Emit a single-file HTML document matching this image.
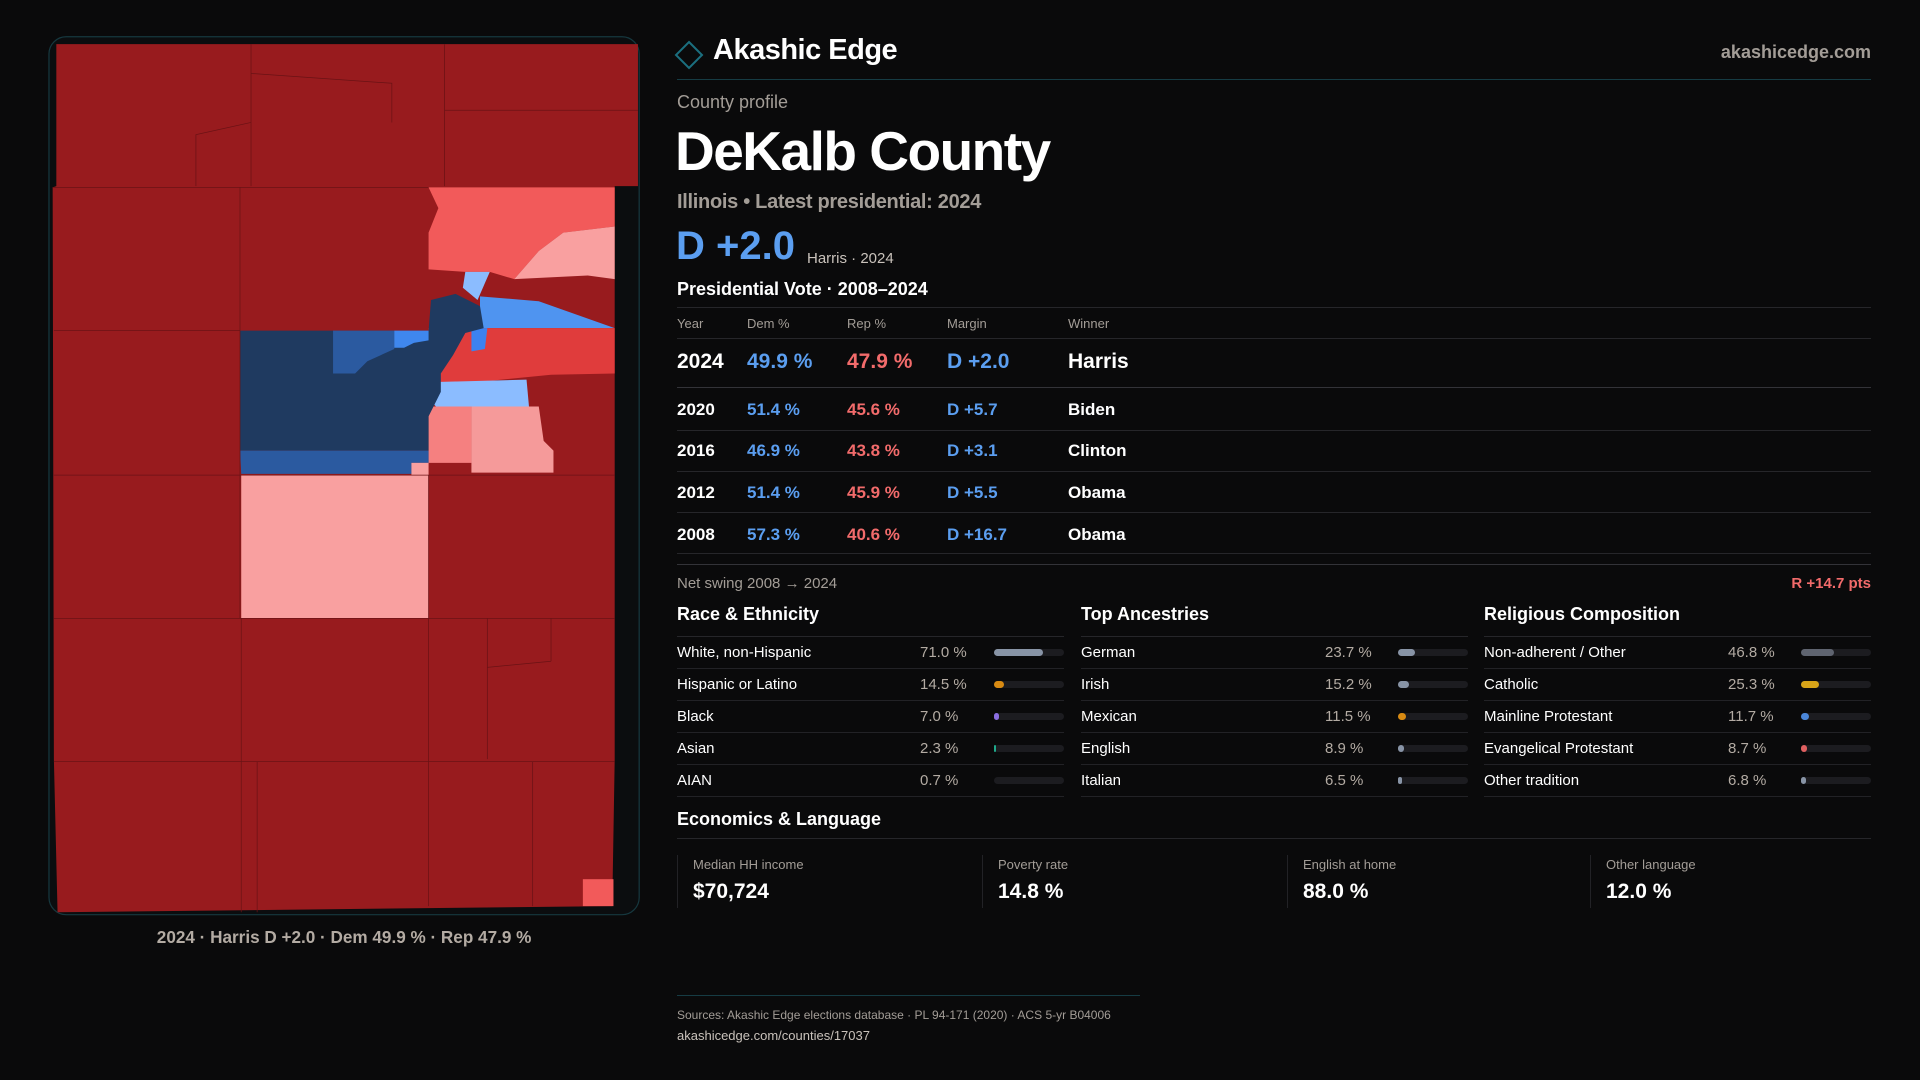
<!DOCTYPE html>
<html><head><meta charset="utf-8"><style>
*{margin:0;padding:0;box-sizing:border-box}
body{width:1920px;height:1080px;background:#0a0a0b;font-family:"Liberation Sans",sans-serif;color:#fff;position:relative;overflow:hidden}
#w{position:absolute;left:0;top:2px;width:1920px;height:1078px}
.a{position:absolute;white-space:nowrap}
.g{color:#a39d97}
.b{color:#5b9ef0}.r{color:#f26b6b}
.hl{position:absolute;height:1px;background:#26262a}
.row{position:absolute;left:0;width:387px;height:32px;border-bottom:1px solid #222226;font-size:15px}
.row .l{position:absolute;left:0;top:7px}
.row .v{position:absolute;top:7px;color:#b3aba3}
.row .t{position:absolute;top:12px;height:7px;border-radius:4px;background:#1c1c20;width:70px}
.row .f{height:7px;border-radius:4px}
.card{position:absolute;top:853px;height:53px;border-left:1px solid #222226;padding-left:15px}
</style></head><body>
<svg class="a" style="left:0;top:0" width="1920" height="1080" viewBox="0 0 1568 882">
<rect x="40" y="30" width="482" height="717" rx="14" fill="#0b0d0f" stroke="#16383f" stroke-width="1"/>
<polygon points="46,36 521,36 521,152 502,152 502,620 500,740 47,745 44,620 43,153 46,152" fill="#981b1e"/>
<rect x="197" y="388" width="153" height="117" fill="#f9a0a0"/>
<polygon points="350,378 385,378 385,332 350,332" fill="#f58080"/>
<polygon points="385,332 440,332 444,360 452,368 452,386 385,386" fill="#f59a9a"/>
<polygon points="350,153 502,153 502,185 460,190 440,205 420,228 400,222 380,222 350,220 350,190 358,170" fill="#f25a5a"/>
<polygon points="420,228 440,205 460,190 502,185 502,228 480,225" fill="#f9a0a0"/>
<polygon points="380,222 400,222 390,245 378,235" fill="#8bbcff"/>
<polygon points="392,242 440,246 502,268 392,268" fill="#4f94f0"/>
<polygon points="350,268 502,268 502,305 450,306 360,315 350,312" fill="#e03c3c"/>
<polygon points="356,312 430,310 432,332 356,332 345,320" fill="#8bbcff"/>
<polygon points="385,268 398,268 396,285 385,287" fill="#3c82f0"/>
<polygon points="196,270 350,270 352,245 372,240 392,250 395,268 380,272 370,290 360,305 360,320 350,340 350,368 196,368" fill="#1f3a60"/>
<polygon points="272,270 322,270 322,285 300,295 290,305 272,305" fill="#2b5aa0"/>
<polygon points="322,270 350,270 350,278 338,280 330,284 322,284" fill="#3f87ee"/>
<polygon points="196,368 350,368 350,378 336,378 336,387 197,387" fill="#2b5aa0"/>
<rect x="336" y="378" width="14" height="11" fill="#f9a0a0"/>
<rect x="476" y="718" width="25" height="22" fill="#f25a5a"/>
<g stroke="#6a1215" stroke-width="0.6" fill="none">
<path d="M43,153 H350 M44,270 H196 M44,388 H502 M44,505 H502 M44,622 H502 M196,153 V505 M197,505 V745 M350,388 V740 M205,36 V152 M363,36 V152 M363,90 H521 M398,505 V620 M435,622 V740 M210,622 V745 M160,152 V110 L205,100 M205,60 L320,68 V100 M450,505 V540 M398,545 L450,540"/>
</g>
<text x="281" y="770" text-anchor="middle" font-family="Liberation Sans" font-size="14" fill="#b3aba3" font-weight="bold">2024 · Harris D +2.0 · Dem 49.9 % · Rep 47.9 %</text>
</svg>
<div id="w">
<svg class="a" style="left:674px;top:38px" width="30" height="30"><polygon points="15,2 28,15 15,28 2,15" fill="none" stroke="#1b6f7f" stroke-width="2"/></svg>
<div class="a" style="left:713px;top:32px;font-size:29px;font-weight:bold;letter-spacing:-0.5px">Akashic Edge</div>
<div class="a g" style="right:49px;top:40px;font-size:18px;font-weight:bold">akashicedge.com</div>
<div class="hl" style="left:677px;width:1194px;top:77px;background:#163c44"></div>
<div class="a g" style="left:677px;top:90px;font-size:18px">County profile</div>
<div class="a" style="left:675px;top:117px;font-size:55px;font-weight:bold;letter-spacing:-1.5px">DeKalb County</div>
<div class="a g" style="left:677px;top:189px;font-size:20px;font-weight:bold;letter-spacing:-0.3px">Illinois • Latest presidential: 2024</div>
<div class="a b" style="left:676px;top:222px;font-size:40px;font-weight:bold">D +2.0</div>
<div class="a" style="left:807px;top:248px;font-size:15px;color:#c9c2bb">Harris · 2024</div>
<div class="a" style="left:677px;top:277px;font-size:18px;font-weight:bold">Presidential Vote · 2008–2024</div>
<div class="hl" style="left:677px;width:1194px;top:305px"></div>
<div class="a g" style="left:677px;top:314px;font-size:13px">Year</div>
<div class="a g" style="left:747px;top:314px;font-size:13px">Dem %</div>
<div class="a g" style="left:847px;top:314px;font-size:13px">Rep %</div>
<div class="a g" style="left:947px;top:314px;font-size:13px">Margin</div>
<div class="a g" style="left:1068px;top:314px;font-size:13px">Winner</div>
<div class="hl" style="left:677px;width:1194px;top:336px"></div>
<div class="a" style="left:677px;top:348px;font-size:21px;font-weight:bold">2024</div>
<div class="a b" style="left:747px;top:348px;font-size:21px;font-weight:bold">49.9 %</div>
<div class="a r" style="left:847px;top:348px;font-size:21px;font-weight:bold">47.9 %</div>
<div class="a b" style="left:947px;top:348px;font-size:21px;font-weight:bold">D +2.0</div>
<div class="a" style="left:1068px;top:348px;font-size:21px;font-weight:bold">Harris</div>
<div class="hl" style="left:677px;width:1194px;top:385px;background:#333338"></div>
<div class="a" style="left:677px;top:398px;font-size:17px;font-weight:bold">2020</div><div class="a b" style="left:747px;top:398px;font-size:17px;font-weight:bold">51.4 %</div><div class="a r" style="left:847px;top:398px;font-size:17px;font-weight:bold">45.6 %</div><div class="a b" style="left:947px;top:398px;font-size:17px;font-weight:bold">D +5.7</div><div class="a" style="left:1068px;top:398px;font-size:17px;font-weight:bold">Biden</div>
<div class="hl" style="left:677px;width:1194px;top:428px"></div>
<div class="a" style="left:677px;top:439px;font-size:17px;font-weight:bold">2016</div><div class="a b" style="left:747px;top:439px;font-size:17px;font-weight:bold">46.9 %</div><div class="a r" style="left:847px;top:439px;font-size:17px;font-weight:bold">43.8 %</div><div class="a b" style="left:947px;top:439px;font-size:17px;font-weight:bold">D +3.1</div><div class="a" style="left:1068px;top:439px;font-size:17px;font-weight:bold">Clinton</div>
<div class="hl" style="left:677px;width:1194px;top:469px"></div>
<div class="a" style="left:677px;top:481px;font-size:17px;font-weight:bold">2012</div><div class="a b" style="left:747px;top:481px;font-size:17px;font-weight:bold">51.4 %</div><div class="a r" style="left:847px;top:481px;font-size:17px;font-weight:bold">45.9 %</div><div class="a b" style="left:947px;top:481px;font-size:17px;font-weight:bold">D +5.5</div><div class="a" style="left:1068px;top:481px;font-size:17px;font-weight:bold">Obama</div>
<div class="hl" style="left:677px;width:1194px;top:510px"></div>
<div class="a" style="left:677px;top:523px;font-size:17px;font-weight:bold">2008</div><div class="a b" style="left:747px;top:523px;font-size:17px;font-weight:bold">57.3 %</div><div class="a r" style="left:847px;top:523px;font-size:17px;font-weight:bold">40.6 %</div><div class="a b" style="left:947px;top:523px;font-size:17px;font-weight:bold">D +16.7</div><div class="a" style="left:1068px;top:523px;font-size:17px;font-weight:bold">Obama</div>
<div class="hl" style="left:677px;width:1194px;top:551px"></div>
<div class="hl" style="left:677px;width:1194px;top:562px;background:#333338"></div>
<div class="a g" style="left:677px;top:573px;font-size:15px">Net swing 2008 → 2024</div>
<div class="a r" style="right:49px;top:573px;font-size:15px;font-weight:bold">R +14.7 pts</div>

<div class="a" style="left:677px;top:602px;width:387px;height:240px">
<div class="a" style="left:0;top:0;font-size:18px;font-weight:bold">Race &amp; Ethnicity</div>
<div class="hl" style="left:0;width:387px;top:32px"></div>
<div class="row" style="top:33px"><span class="l">White, non-Hispanic</span><span class="v" style="left:243px">71.0 %</span><div class="t" style="left:317px"><div class="f" style="width:49px;background:#8894a6"></div></div></div>
<div class="row" style="top:65px"><span class="l">Hispanic or Latino</span><span class="v" style="left:243px">14.5 %</span><div class="t" style="left:317px"><div class="f" style="width:10px;background:#d88a12"></div></div></div>
<div class="row" style="top:97px"><span class="l">Black</span><span class="v" style="left:243px">7.0 %</span><div class="t" style="left:317px"><div class="f" style="width:5px;background:#8a6ee0"></div></div></div>
<div class="row" style="top:129px"><span class="l">Asian</span><span class="v" style="left:243px">2.3 %</span><div class="t" style="left:317px"><div class="f" style="width:2px;background:#1fa88a"></div></div></div>
<div class="row" style="top:161px"><span class="l">AIAN</span><span class="v" style="left:243px">0.7 %</span><div class="t" style="left:317px"></div></div>
</div>
<div class="a" style="left:1081px;top:602px;width:387px;height:240px">
<div class="a" style="left:0;top:0;font-size:18px;font-weight:bold">Top Ancestries</div>
<div class="hl" style="left:0;width:387px;top:32px"></div>
<div class="row" style="top:33px"><span class="l">German</span><span class="v" style="left:244px">23.7 %</span><div class="t" style="left:317px"><div class="f" style="width:17px;background:#8894a6"></div></div></div>
<div class="row" style="top:65px"><span class="l">Irish</span><span class="v" style="left:244px">15.2 %</span><div class="t" style="left:317px"><div class="f" style="width:11px;background:#8894a6"></div></div></div>
<div class="row" style="top:97px"><span class="l">Mexican</span><span class="v" style="left:244px">11.5 %</span><div class="t" style="left:317px"><div class="f" style="width:8px;background:#d88a12"></div></div></div>
<div class="row" style="top:129px"><span class="l">English</span><span class="v" style="left:244px">8.9 %</span><div class="t" style="left:317px"><div class="f" style="width:6px;background:#8894a6"></div></div></div>
<div class="row" style="top:161px"><span class="l">Italian</span><span class="v" style="left:244px">6.5 %</span><div class="t" style="left:317px"><div class="f" style="width:4px;background:#8894a6"></div></div></div>
</div>
<div class="a" style="left:1484px;top:602px;width:387px;height:240px">
<div class="a" style="left:0;top:0;font-size:18px;font-weight:bold">Religious Composition</div>
<div class="hl" style="left:0;width:387px;top:32px"></div>
<div class="row" style="top:33px"><span class="l">Non-adherent / Other</span><span class="v" style="left:244px">46.8 %</span><div class="t" style="left:317px"><div class="f" style="width:33px;background:#5f6470"></div></div></div>
<div class="row" style="top:65px"><span class="l">Catholic</span><span class="v" style="left:244px">25.3 %</span><div class="t" style="left:317px"><div class="f" style="width:18px;background:#d8a418"></div></div></div>
<div class="row" style="top:97px"><span class="l">Mainline Protestant</span><span class="v" style="left:244px">11.7 %</span><div class="t" style="left:317px"><div class="f" style="width:8px;background:#4a86d8"></div></div></div>
<div class="row" style="top:129px"><span class="l">Evangelical Protestant</span><span class="v" style="left:244px">8.7 %</span><div class="t" style="left:317px"><div class="f" style="width:6px;background:#e06060"></div></div></div>
<div class="row" style="top:161px"><span class="l">Other tradition</span><span class="v" style="left:244px">6.8 %</span><div class="t" style="left:317px"><div class="f" style="width:5px;background:#8894a6"></div></div></div>
</div>

<div class="a" style="left:677px;top:807px;font-size:18px;font-weight:bold">Economics &amp; Language</div>
<div class="hl" style="left:677px;width:1194px;top:836px"></div>
<div class="card" style="left:677px"><div class="g" style="font-size:13px;margin-top:2px">Median HH income</div><div style="font-size:21px;font-weight:bold;margin-top:8px">$70,724</div></div>
<div class="card" style="left:982px"><div class="g" style="font-size:13px;margin-top:2px">Poverty rate</div><div style="font-size:21px;font-weight:bold;margin-top:8px">14.8 %</div></div>
<div class="card" style="left:1287px"><div class="g" style="font-size:13px;margin-top:2px">English at home</div><div style="font-size:21px;font-weight:bold;margin-top:8px">88.0 %</div></div>
<div class="card" style="left:1590px"><div class="g" style="font-size:13px;margin-top:2px">Other language</div><div style="font-size:21px;font-weight:bold;margin-top:8px">12.0 %</div></div>

<div class="hl" style="left:677px;width:463px;top:993px;background:#163c44"></div>
<div class="a g" style="left:677px;top:1006px;font-size:12px">Sources: Akashic Edge elections database · PL 94-171 (2020) · ACS 5-yr B04006</div>
<div class="a" style="left:677px;top:1026px;font-size:13px;color:#c9c2bb">akashicedge.com/counties/17037</div>
</div>
</body></html>
